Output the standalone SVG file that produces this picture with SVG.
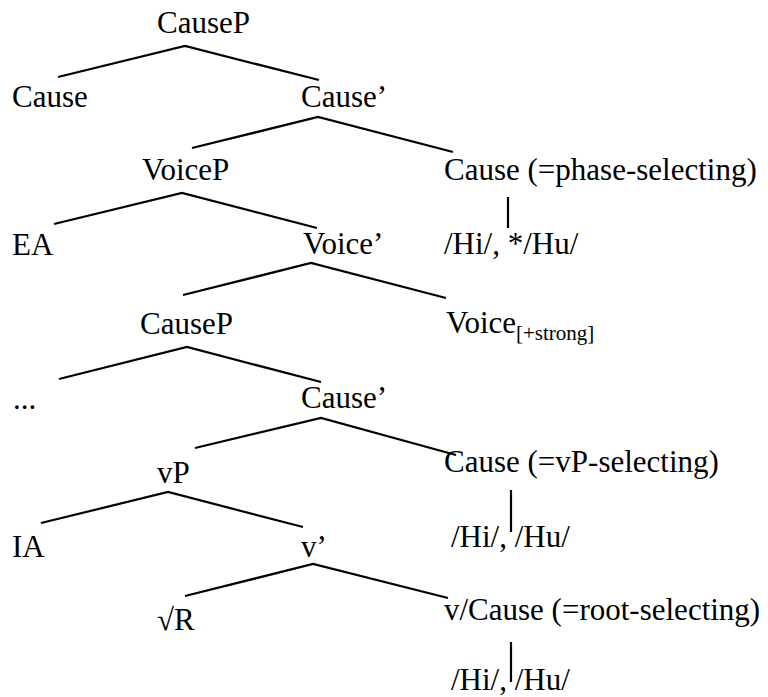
<svg xmlns="http://www.w3.org/2000/svg" width="768" height="697" viewBox="0 0 768 697">
<style>
.t{font-size:31px;fill:#000}
.sub{font-size:21px}
.e{stroke:#000;stroke-width:2.2;fill:none;stroke-linecap:butt}
</style>
<rect width="768" height="697" fill="#fff"/>
<g id="connectors">
<path class="e" d="M58,77 L185,46 L319,80"/>
<path class="e" d="M192,148 L318,117 L453,152"/>
<path class="e" d="M54,224 L182,193 L317,228"/>
<path class="e" d="M183,295 L311,263 L446,298"/>
<path class="e" d="M59,379 L187,347 L321,382"/>
<path class="e" d="M195,448 L321,418 L456,455"/>
<path class="e" d="M41,523 L168,492 L303,527"/>
<path class="e" d="M185,596 L313,564 L448,598"/>
<path class="e" d="M508,197 L508,228"/>
<path class="e" d="M511,490 L511,532"/>
<path class="e" d="M511,642 L511,682"/>
</g>
<g class="t" font-family="Liberation Serif, Times New Roman, DejaVu Serif, serif">
<g id="n1"><text x="157" y="33">CauseP</text></g>
<g id="n2"><text x="12" y="107">Cause</text></g>
<g id="n3"><text x="301" y="107">Cause’</text></g>
<g id="n4"><text x="142" y="180">VoiceP</text></g>
<g id="n5"><text x="444" y="180">Cause (=phase-selecting)</text></g>
<g id="n6"><text x="12" y="255">EA</text></g>
<g id="n7"><text x="303" y="254">Voice’</text></g>
<g id="n8"><text x="444" y="254">/Hi/, */Hu/</text></g>
<g id="n9"><text x="140" y="334">CauseP</text></g>
<g id="n10"><text x="446" y="333">Voice<tspan class="sub" dy="7">[+strong]</tspan></text></g>
<g id="n11"><text x="13" y="409">...</text></g>
<g id="n12"><text x="301" y="408">Cause’</text></g>
<g id="n13"><text x="444" y="472">Cause (=vP-selecting)</text></g>
<g id="n14"><text x="157" y="483">vP</text></g>
<g id="n15"><text x="12" y="557">IA</text></g>
<g id="n16"><text x="301" y="557">v’</text></g>
<g id="n17"><text x="451" y="547">/Hi/, /Hu/</text></g>
<g id="n18"><text x="157" y="630">√R</text></g>
<g id="n19"><text x="444" y="620">v/Cause (=root-selecting)</text></g>
<g id="n20"><text x="451" y="690">/Hi/, /Hu/</text></g>
</g>
</svg>
